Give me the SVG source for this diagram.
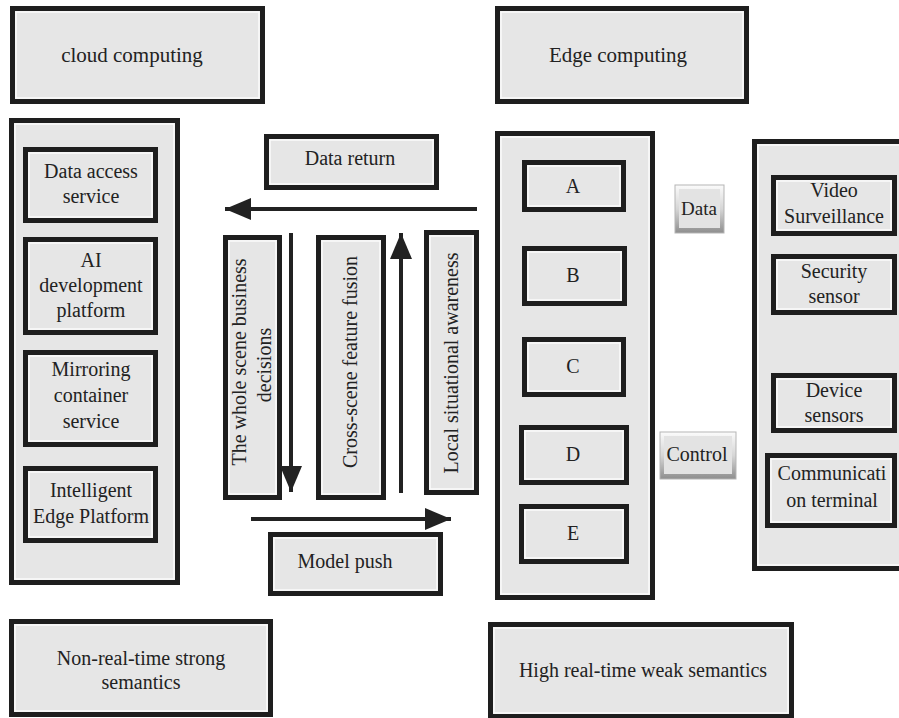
<svg xmlns="http://www.w3.org/2000/svg" width="899" height="718" viewBox="0 0 899 718">
<style>
  .box{fill:#e6e6e6;stroke:#1e1e1e;stroke-width:5}
  .hl{fill:none;stroke:#fbfbfb;stroke-width:1.5}
  .t{font-family:'Liberation Serif','Tinos','Times New Roman','DejaVu Serif','Noto Serif',serif;font-size:20px;fill:#222;text-anchor:middle}
  .h{font-size:21px}
  .ln{stroke:#222;stroke-width:4;fill:none}
  .btnin{fill:#e3e3e3}
</style>
<defs>
  <marker id="ah" markerUnits="userSpaceOnUse" markerWidth="28" markerHeight="22" refX="26" refY="11" orient="auto">
    <path d="M0,0 L26,11 L0,22 Z" fill="#222"/>
  </marker>
  <linearGradient id="bev" x1="0" y1="0" x2="0" y2="1">
    <stop offset="0" stop-color="#fbfbfb"/>
    <stop offset="0.5" stop-color="#d6d6d6"/>
    <stop offset="1" stop-color="#8e8e8e"/>
  </linearGradient>
</defs>
<rect width="899" height="718" fill="#fff"/>

<g id="cloud">
  <rect class="box" x="12.5" y="8.5" width="250" height="93"/>
  <rect class="hl" x="16" y="12" width="243" height="86"/>
  <text class="t h" x="132" y="62" font-family="Liberation Serif, serif">cloud computing</text>
</g>
<g id="edge">
  <rect class="box" x="497.5" y="8.5" width="249" height="93"/>
  <rect class="hl" x="501" y="12" width="242" height="86"/>
  <text class="t h" x="618" y="62">Edge computing</text>
</g>

<g id="cloud-services">
  <rect class="box" x="11.5" y="120.5" width="166" height="462"/>
  <rect class="hl" x="15" y="124" width="159" height="455"/>
</g>
<g id="data-access">
  <rect class="box" x="25.5" y="149.5" width="130" height="71"/>
  <rect class="hl" x="29" y="153" width="123" height="64"/>
  <text class="t" x="91" y="178">Data access</text>
  <text class="t" x="91" y="203">service</text>
</g>
<g id="ai-dev">
  <rect class="box" x="25.5" y="239.5" width="130" height="93"/>
  <rect class="hl" x="29" y="243" width="123" height="86"/>
  <text class="t" x="91" y="267">AI</text>
  <text class="t" x="91" y="292">development</text>
  <text class="t" x="91" y="317">platform</text>
</g>
<g id="mirroring">
  <rect class="box" x="25.5" y="352.5" width="130" height="92"/>
  <rect class="hl" x="29" y="356" width="123" height="85"/>
  <text class="t" x="91" y="376">Mirroring</text>
  <text class="t" x="91" y="402">container</text>
  <text class="t" x="91" y="428">service</text>
</g>
<g id="intelligent-edge">
  <rect class="box" x="25.5" y="468.5" width="130" height="72"/>
  <rect class="hl" x="29" y="472" width="123" height="65"/>
  <text class="t" x="91" y="497">Intelligent</text>
  <text class="t" x="91" y="523">Edge Platform</text>
</g>

<g id="data-return">
  <rect class="box" x="266.5" y="136.5" width="170" height="51"/>
  <rect class="hl" x="270" y="140" width="163" height="44"/>
  <text class="t" x="350" y="165">Data return</text>
</g>
<g id="whole-scene">
  <rect class="box" x="225.5" y="237.5" width="54" height="260"/>
  <rect class="hl" x="229" y="241" width="47" height="253"/>
  <text class="t" transform="translate(246,362) rotate(-90)">The whole scene business</text>
  <text class="t" transform="translate(271,365) rotate(-90)">decisions</text>
</g>
<g id="cross-scene">
  <rect class="box" x="318.5" y="237.5" width="65" height="260"/>
  <rect class="hl" x="322" y="241" width="58" height="253"/>
  <text class="t" transform="translate(357,362) rotate(-90)">Cross-scene feature fusion</text>
</g>
<g id="local">
  <rect class="box" x="426.5" y="232.5" width="50" height="260"/>
  <rect class="hl" x="430" y="236" width="43" height="253"/>
  <text class="t" transform="translate(458,363) rotate(-90)">Local situational awareness</text>
</g>
<g id="model-push">
  <rect class="box" x="270.5" y="534.5" width="170" height="59"/>
  <rect class="hl" x="274" y="538" width="163" height="52"/>
  <text class="t" x="345" y="568">Model push</text>
</g>

<g id="edge-nodes">
  <rect class="box" x="497.5" y="133.5" width="155" height="464"/>
  <rect class="hl" x="501" y="137" width="148" height="457"/>
</g>
<g id="A">
  <rect class="box" x="524.5" y="162.5" width="99" height="47"/>
  <rect class="hl" x="528" y="166" width="92" height="40"/>
  <text class="t" x="573" y="193">A</text>
</g>
<g id="B">
  <rect class="box" x="524.5" y="248.5" width="100" height="55"/>
  <rect class="hl" x="528" y="252" width="93" height="48"/>
  <text class="t" x="573" y="282">B</text>
</g>
<g id="C">
  <rect class="box" x="524.5" y="339.5" width="99" height="55"/>
  <rect class="hl" x="528" y="343" width="92" height="48"/>
  <text class="t" x="573" y="373">C</text>
</g>
<g id="D">
  <rect class="box" x="521.5" y="427.5" width="105" height="55"/>
  <rect class="hl" x="525" y="431" width="98" height="48"/>
  <text class="t" x="573" y="461">D</text>
</g>
<g id="E">
  <rect class="box" x="521.5" y="506.5" width="105" height="55"/>
  <rect class="hl" x="525" y="510" width="98" height="48"/>
  <text class="t" x="573" y="540">E</text>
</g>

<g id="data-btn">
  <rect x="675" y="185" width="49" height="48" fill="url(#bev)" stroke="#b5b5b5" stroke-width="1"/>
  <rect class="btnin" x="679" y="189" width="41" height="39"/>
  <text class="t" x="699" y="215" style="font-size:19px">Data</text>
</g>
<g id="control-btn">
  <rect x="660" y="432" width="76" height="47" fill="url(#bev)" stroke="#b5b5b5" stroke-width="1"/>
  <rect class="btnin" x="664" y="436" width="68" height="38"/>
  <text class="t" x="697" y="461">Control</text>
</g>

<g id="devices">
  <rect class="box" x="754.5" y="141.5" width="160" height="427"/>
  <rect class="hl" x="758" y="145" width="160" height="420"/>
</g>
<g id="video">
  <rect class="box" x="773.5" y="177.5" width="121" height="56"/>
  <rect class="hl" x="777" y="181" width="114" height="49"/>
  <text class="t" x="834" y="197">Video</text>
  <text class="t" x="834" y="223">Surveillance</text>
</g>
<g id="security">
  <rect class="box" x="773.5" y="256.5" width="121" height="56"/>
  <rect class="hl" x="777" y="260" width="114" height="49"/>
  <text class="t" x="834" y="278">Security</text>
  <text class="t" x="834" y="303">sensor</text>
</g>
<g id="device-sensors">
  <rect class="box" x="773.5" y="375.5" width="121" height="55"/>
  <rect class="hl" x="777" y="379" width="114" height="48"/>
  <text class="t" x="834" y="397">Device</text>
  <text class="t" x="834" y="422">sensors</text>
</g>
<g id="comm">
  <rect class="box" x="767.5" y="455.5" width="127" height="70"/>
  <rect class="hl" x="771" y="459" width="120" height="63"/>
  <text class="t" x="832" y="480">Communicati</text>
  <text class="t" x="832" y="507">on terminal</text>
</g>

<g id="non-real-time">
  <rect class="box" x="11.5" y="621.5" width="259" height="93"/>
  <rect class="hl" x="15" y="625" width="252" height="86"/>
  <text class="t" x="141" y="665">Non-real-time strong</text>
  <text class="t" x="141" y="689">semantics</text>
</g>
<g id="high-real-time">
  <rect class="box" x="490.5" y="624.5" width="301" height="92"/>
  <rect class="hl" x="494" y="628" width="294" height="85"/>
  <text class="t" x="643" y="677">High real-time weak semantics</text>
</g>

<g id="connectors">
  <line class="ln" x1="477" y1="209" x2="225" y2="209" marker-end="url(#ah)"/>
  <line class="ln" x1="291" y1="233" x2="291" y2="492" marker-end="url(#ah)"/>
  <line class="ln" x1="401" y1="493" x2="401" y2="233" marker-end="url(#ah)"/>
  <line class="ln" x1="251" y1="519" x2="451" y2="519" marker-end="url(#ah)"/>
</g>
</svg>
